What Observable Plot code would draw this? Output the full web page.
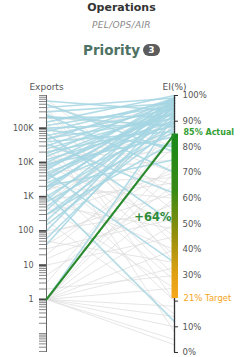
<!DOCTYPE html>
<html><head><meta charset="utf-8">
<script src="https://cdn.jsdelivr.net/npm/d3@7"></script>
<script src="https://cdn.jsdelivr.net/npm/@observablehq/plot@0.6"></script>
<style>
body{margin:0;background:#fff;font-family:"DejaVu Sans",sans-serif;}
#head{width:243px;height:72px;position:relative;}
#head div{position:absolute;left:0;width:243px;text-align:center;white-space:nowrap;}
.t1{top:1px;font-size:11px;font-weight:bold;color:#333;line-height:14px;}
.t2{top:19px;font-size:9px;font-style:italic;color:#8a8a8a;line-height:12px;letter-spacing:0.3px;}
.t3{top:41px;font-size:13.5px;font-weight:bold;color:#4e7263;line-height:18px;}
.badge{display:inline-block;background:#5c5c5c;color:#fff;font-size:9px;border-radius:7px;width:17px;height:12px;line-height:12px;text-align:center;vertical-align:2px;margin-left:3px;}
</style></head><body>
<div id="head">
  <div class="t1">Operations</div>
  <div class="t2">PEL/OPS/AIR</div>
  <div class="t3">Priority<span class="badge">3</span></div>
</div>
<div id="chart"></div>
<script>
const dims = ["Exports", "EI(%)"];
// highlighted lines (blue)
const blueExports = [620000,400000,300000,200000,150000,120000,100000,80000,70000,60000,50000,45000,40000,30000,25000,20000,18000,15000,12000,10000,9000,7000,6000,5000,4000,3500,3000,2500,2000,1500,1200,1000,800,700,500,400,300,200,150,100,60,40,250000,35000,500000,5000,1,90000,2000,300,220000,8000,1800];
const blueEI =      [94,99,97,92,100,96,89,98,50,95,91,99,86,97,93,88,99,95,90,97,84,94,99,89,96,92,98,87,95,99,12,91,97,86,94,99,90,96,88,98,93,97,70,62,78,35,92,80,75,82,88,93,97];
// background lines (gray)
const grayExports = [500000,300000,200000,100000,70000,50000,30000,20000,10000,8000,5000,3000,2000,1000,700,500,300,200,100,50,20,10,5,2,1,1,1,1,1,1,1,1,400000,150000,60000,15000,4000,1500,800,150,40,15,3,1,1,700000,250000,25000,6000,2500,600,80,30,1,1,1];
const grayEI =      [80,55,88,70,45,97,65,30,85,50,75,20,60,40,92,25,70,15,55,35,80,45,65,30,50,40,60,10,5,25,75,18,35,20,8,78,95,82,66,90,72,58,85,90,3,60,42,38,28,68,48,62,52,33,14,70];
// key values
const highlightExports = 1;
const actualEI = 85;
const targetEI = 21;
// axis ticks
const exportMajor = [1, 10, 100, 1000, 10000, 100000];
const exportLabels = ["1", "10", "100", "1K", "10K", "100K"];
const eiTicks = [0, 10, 20, 30, 40, 50, 60, 70, 80, 90, 100];
const eiLabels = ["0%", "10%", "", "30%", "40%", "50%", "60%", "70%", "80%", "90%", "100%"];

const logS = d3.scaleLog().domain([0.028, 900000]).range([0, 1]);
const eiS = v => v / 100;

const exportMinor = [];
for (let k = -2; k <= 5; k++) for (let m = 1; m <= 9; m++) {
  const v = m * Math.pow(10, k);
  if (v >= 0.028 && v <= 900000) exportMinor.push(v);
}

const mkRows = (ex, ei, p) => ex.flatMap((e, i) => [
  {id: p + i, x: 0, y: logS(e)},
  {id: p + i, x: 1, y: eiS(ei[i])}
]);
const grayRows = mkRows(grayExports, grayEI, "g");
const blueRows = mkRows(blueExports, blueEI, "b");
const hlRows = mkRows([highlightExports], [actualEI], "h");

const px = 1 / 128; // one pixel in x units
const font = "DejaVu Sans";

const chart = Plot.plot({
  width: 243, height: 285,
  marginTop: 23, marginBottom: 5, marginLeft: 46, marginRight: 69,
  x: {domain: [0, 1], axis: null},
  y: {domain: [0, 1], axis: null},
  style: {fontFamily: font, background: "transparent"},
  marks: [
    Plot.line(grayRows, {x: "x", y: "y", z: "id", stroke: "#dcdcdc", strokeWidth: 0.8, strokeOpacity: 0.9}),
    Plot.line(blueRows, {x: "x", y: "y", z: "id", stroke: "#a6d6e3", strokeWidth: 1.6, strokeOpacity: 0.85}),
    // left axis
    Plot.ruleX([0], {x: d => d, y1: 0, y2: 1, stroke: "#666", strokeWidth: 1}),
    Plot.ruleY(exportMinor, {y: d => logS(d), x1: -7 * px, x2: 0, stroke: "#666", strokeWidth: 0.8}),
    Plot.ruleY(exportMajor, {y: d => logS(d), x1: -7 * px, x2: 0, stroke: "#444", strokeWidth: 1.6}),
    Plot.text(exportMajor, {y: d => logS(d), x: 0, text: (d, i) => exportLabels[i], dx: -13, textAnchor: "end", fontSize: 8, fill: "#555"}),
    // right axis
    Plot.ruleX([1], {x: d => d, y1: 0, y2: 1, stroke: "#333", strokeWidth: 1.3}),
    Plot.ruleY(eiTicks, {y: d => eiS(d), x1: 1, x2: 1 + 4 * px, stroke: "#333", strokeWidth: 1}),
    Plot.text(eiTicks, {y: d => eiS(d), x: 1, text: (d, i) => eiLabels[i], dx: 8, textAnchor: "start", fontSize: 8.5, fill: "#555"}),
    // EI bar from target to actual
    Plot.rect([{a: targetEI, b: actualEI}], {x1: 1 - 2.5 * px, x2: 1 + 4 * px, y1: d => eiS(d.a), y2: d => eiS(d.b), fill: "url(#eiGrad)"}),
    // highlight line
    Plot.line(hlRows, {x: "x", y: "y", z: "id", stroke: "#2a8a2e", strokeWidth: 2.2}),
    Plot.text([actualEI], {x: 1, y: d => eiS(d), text: d => `${d}% Actual`, dx: 9, dy: -2, textAnchor: "start", fontSize: 8, fontWeight: "bold", fill: "#34a034"}),
    Plot.text([targetEI], {x: 1, y: d => eiS(d), text: d => `${d}% Target`, dx: 9, dy: 0, textAnchor: "start", fontSize: 8.5, fill: "#f5a623"}),
    Plot.text([actualEI - targetEI], {x: 1, y: eiS((actualEI + targetEI) / 2), text: d => `+${d}%`, dx: -3, dy: 1, textAnchor: "end", fontSize: 11.5, fontWeight: "bold", fill: "#2e8b3a"}),
    // headers
    Plot.text(dims, {x: (d, i) => i, y: 1, text: d => d, dy: -8, textAnchor: "middle", fontSize: 9, fill: "#555"})
  ]
});

const svg = d3.select(chart);
const defs = svg.insert("defs", ":first-child");
const grad = defs.append("linearGradient").attr("id", "eiGrad").attr("x1", 0).attr("y1", 0).attr("x2", 0).attr("y2", 1);
[["0%", "#17891a"], ["35%", "#3a8a14"], ["60%", "#8f8e0c"], ["85%", "#e0a014"], ["100%", "#f7a81b"]].forEach(([o, c]) => grad.append("stop").attr("offset", o).attr("stop-color", c));

document.getElementById("chart").appendChild(chart);
</script>
</body></html>
